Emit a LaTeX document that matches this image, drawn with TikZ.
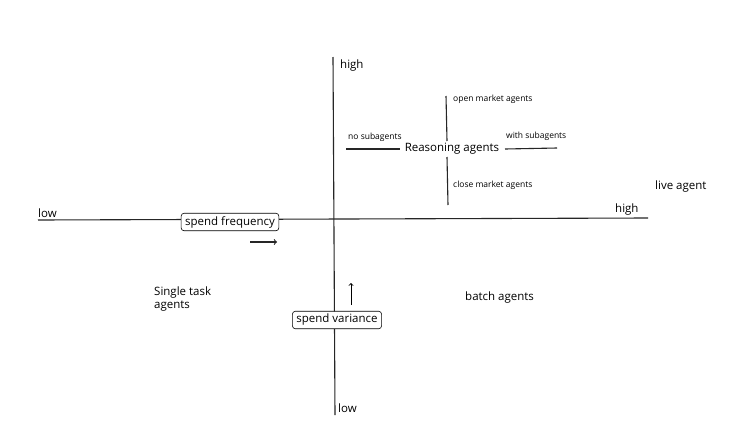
\documentclass[tikz,border=0pt]{standalone}
\usepackage{fontspec}
\setmainfont{Open Sans}
\begin{document}
\begin{tikzpicture}[x=1pt,y=-1pt,
  ln/.style={line width=1.1pt,black!85},
  lab/.style={font=\fontsize{11.5}{13}\selectfont,inner sep=1pt},
  sm/.style={font=\fontsize{8.5}{10}\selectfont,inner sep=1pt},
  box/.style={draw,rounded corners=3pt,line width=0.6pt,font=\fontsize{11.5}{13}\selectfont,inner xsep=4pt,inner ysep=3pt,fill=white}]
\useasboundingbox[fill=white] (0,0) rectangle (736,442);
\coordinate (hl) at (38,220); \coordinate (hr) at (648,218);
\coordinate (vt) at (333,57); \coordinate (vb) at (335,415);
\draw[ln] (hl) -- (hr);
\draw[ln] (vt) -- (vb);
\node[lab,anchor=west] (hi1) at (339,66) {high};
\node[lab,anchor=west] (lo1) at (337,408) {low};
\node[lab,anchor=west] (lo2) at (37,213) {low};
\node[lab,anchor=west] (hi2) at (614,210) {high};
\node[box] (sf) at (230,222) {spend frequency};
\coordinate (a1) at (250,242); \coordinate (a2) at (277,242);
\draw[ln,->] (a1) -- (a2);
\node[box] (sv) at (337,320) {spend variance};
\coordinate (b1) at (351,305); \coordinate (b2) at (351,283);
\draw[line width=0.9pt,->] (b1) -- (b2);
\node[lab] (ra) at (452,149) {Reasoning agents};
\coordinate (l1) at (346,149); \coordinate (l2) at (400,149);
\coordinate (r1) at (505,149); \coordinate (r2) at (557,148);
\draw[ln] (l1) -- (l2); \draw[ln] (r1) -- (r2);
\coordinate (t1) at (446,96); \coordinate (t2) at (447,141);
\coordinate (u1) at (447,157); \coordinate (u2) at (448,205);
\draw[ln] (t1) -- (t2); \draw[ln] (u1) -- (u2);
\node[sm,anchor=west] (om) at (452,99) {open market agents};
\node[sm,anchor=west] (cm) at (452,185) {close market agents};
\node[sm,anchor=west] (ns) at (347,137) {no subagents};
\node[sm,anchor=west] (ws) at (505,136) {with subagents};
\node[lab,anchor=west] (la) at (654,187) {live agent};
\node[lab,anchor=north west,align=left] (st) at (153,286) {Single task\\agents};
\node[lab,anchor=west] (ba) at (464,298) {batch agents};
\end{tikzpicture}
\end{document}
